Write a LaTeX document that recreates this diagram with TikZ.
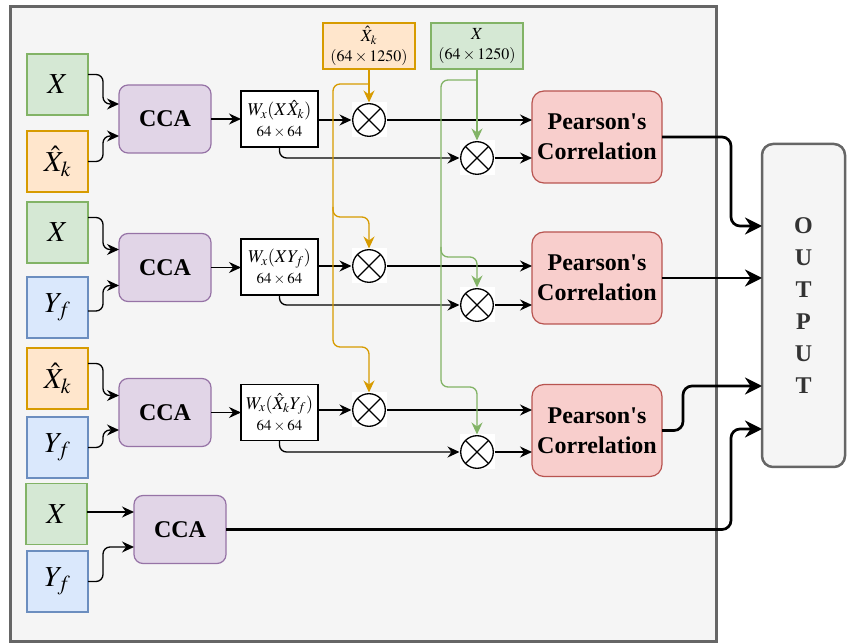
\documentclass[tikz,border=0pt]{standalone}
\usepackage{mathptmx}
\usepackage[no-math]{fontspec}
\setmainfont{Liberation Serif}
\usetikzlibrary{arrows.meta,calc}

\definecolor{gfill}{HTML}{D5E8D4}\definecolor{gline}{HTML}{82B366}
\definecolor{ofill}{HTML}{FFE6CC}\definecolor{oline}{HTML}{D79B00}
\definecolor{bfill}{HTML}{DAE8FC}\definecolor{bline}{HTML}{6C8EBF}
\definecolor{pfill}{HTML}{E1D5E7}\definecolor{pline}{HTML}{9673A6}
\definecolor{rfill}{HTML}{F8CECC}\definecolor{rline}{HTML}{B85450}
\definecolor{panel}{HTML}{F5F5F5}\definecolor{panelline}{HTML}{666666}
\definecolor{paneltext}{HTML}{333333}

\newcommand{\lineone}{\fontsize{18}{21}\selectfont}
\newcommand{\topone}{\fontsize{17}{21}\selectfont}

\begin{document}
\begin{tikzpicture}[x=1pt,y=-1pt,
  every node/.style={inner sep=0pt, outer sep=0pt},
  inbox/.style={draw, line width=1.2pt, minimum width=61pt, minimum height=61pt,
    font=\fontsize{29}{32}\selectfont},
  gbox/.style={inbox, fill=gfill, draw=gline},
  obox/.style={inbox, fill=ofill, draw=oline},
  bbox/.style={inbox, fill=bfill, draw=bline},
  ccabox/.style={draw=pline, fill=pfill, line width=1.2pt, rounded corners=9pt,
    minimum width=92pt, minimum height=68pt, font=\fontsize{24}{28}\bfseries\selectfont},
  wbox/.style={draw, fill=white, line width=1.3pt, minimum width=77pt, minimum height=56pt,
    align=center, font=\fontsize{15}{21}\selectfont},
  pbox/.style={draw=rline, fill=rfill, line width=1.2pt, rounded corners=12pt,
    minimum width=130pt, minimum height=92pt, align=center,
    font=\fontsize{24}{30}\bfseries\selectfont},
  topbox/.style={draw, line width=1.2pt, minimum width=92pt, minimum height=46pt,
    align=center, font=\fontsize{16}{20}\selectfont},
  mult/.style={rectangle, fill=white, minimum size=35pt, path picture={
      \coordinate (mc) at (path picture bounding box.center);
      \draw[line width=1.3pt] (mc) circle[radius=16.3pt];
      \draw[line width=1.3pt] ($(mc)+(-11.5,-11.5)$) -- ($(mc)+(11.5,11.5)$)
        ($(mc)+(-11.5,11.5)$) -- ($(mc)+(11.5,-11.5)$);}},
  link/.style={line width=1.3pt, rounded corners=7pt,
    -{Stealth[length=12pt,width=11pt,inset=4pt]}},
  olink/.style={link, draw=oline},
  glink/.style={link, draw=gline},
  thick link/.style={line width=2.7pt, rounded corners=9pt,
    -{Stealth[length=17pt,width=17pt,inset=5.5pt]}}]

\useasboundingbox (0,0) rectangle (847,644);

% grey panel holding the whole pipeline
\draw[panelline, fill=panel, line width=3pt] (10,7) rectangle (716,641);

% output column
\node[draw=panelline, fill=panel, line width=2.5pt, rounded corners=11pt,
  minimum width=83pt, minimum height=323pt, align=center, text=paneltext,
  font=\fontsize{24}{32}\bfseries\selectfont] (out) at (803.5,305.5) {O\\U\\T\\P\\U\\T};

% inputs
\node[gbox] (x1) at (57.5,84.5) {$X$};
\node[obox] (k1) at (57.5,161.5) {$\hat{X}_k$};
\node[gbox] (x2) at (57.5,232.5) {$X$};
\node[bbox] (y2) at (57.5,307.5) {$Y_f$};
\node[obox] (k3) at (57.5,378.5) {$\hat{X}_k$};
\node[bbox] (y3) at (57.5,447.5) {$Y_f$};
\node[gbox] (x4) at (56.5,514) {$X$};
\node[bbox] (y4) at (57.5,581.5) {$Y_f$};

% CCA blocks
\node[ccabox] (cca1) at (165,119) {CCA};
\node[ccabox] (cca2) at (165,267.5) {CCA};
\node[ccabox] (cca3) at (165,412.5) {CCA};
\node[ccabox] (cca4) at (180,529.5) {CCA};

% projection matrices
\node[wbox] (w1) at (279.5,119) {{\lineone$W_x(X\hat{X}_k)$}\\$64\times 64$};
\node[wbox] (w2) at (279.5,267) {{\lineone$W_x(XY_f)$}\\$64\times 64$};
\node[wbox] (w3) at (279.5,412.5) {{\lineone$W_x(\hat{X}_kY_f)$}\\$64\times 64$};

% shared signals
\node[topbox, draw=oline, fill=ofill] (tk) at (369,46) {{\topone$\hat{X}_k$}\\$(64\times 1250)$};
\node[topbox, draw=gline, fill=gfill] (tx) at (477,46) {{\topone$X$}\\$(64\times 1250)$};

% products
\node[mult] (m1a) at (369,120) {};
\node[mult] (m1b) at (477,158) {};
\node[mult] (m2a) at (369,266) {};
\node[mult] (m2b) at (477,305) {};
\node[mult] (m3a) at (369,410) {};
\node[mult] (m3b) at (477,452) {};

% correlation blocks
\node[pbox] (p1) at (597,137) {Pearson\textquotesingle s\\Correlation};
\node[pbox] (p2) at (597,278) {Pearson\textquotesingle s\\Correlation};
\node[pbox] (p3) at (597,430.5) {Pearson\textquotesingle s\\Correlation};

% inputs into CCA
\draw[link] ([yshift=10pt]x1.east) -- ++(15,0) |- ([yshift=15pt]cca1.west);
\draw[link] (k1.east) -- ++(15,0) |- ([yshift=-17pt]cca1.west);
\draw[link] ([yshift=15pt]x2.east) -- ++(15,0) |- ([yshift=18pt]cca2.west);
\draw[link] ([yshift=-3.5pt]y2.east) -- ++(15,0) |- ([yshift=-18pt]cca2.west);
\draw[link] ([yshift=15pt]k3.east) -- ++(15,0) |- ([yshift=17pt]cca3.west);
\draw[link] (y3.east) -- ++(15,0) |- ([yshift=-17.5pt]cca3.west);
\draw[link] ([yshift=2pt]x4.east) -- ([yshift=2pt]x4.east -| cca4.west);
\draw[link] (y4.east) -- ++(15,0) |- ([yshift=-17.5pt]cca4.west);

% CCA into projections
\draw[link] (cca1.east) -- (cca1.east -| w1.west);
\draw[link] (cca2.east) -- (cca2.east -| w2.west);
\draw[link] (cca3.east) -- (cca3.east -| w3.west);

% projections into products
\draw[link] (m1a.west -| w1.east) -- (m1a.west);
\draw[link] (m2a.west -| w2.east) -- (m2a.west);
\draw[link] (m3a.west -| w3.east) -- (m3a.west);
\draw[link] (w1.south) |- (m1b.west);
\draw[link] (w2.south) |- (m2b.west);
\draw[link] (w3.south) |- (m3b.west);

% products into correlation
\draw[link] (m1a.east) -- (m1a.east -| p1.west);
\draw[link] (m1b.east) -- (m1b.east -| p1.west);
\draw[link] (m2a.east) -- (m2a.east -| p2.west);
\draw[link] (m2b.east) -- (m2b.east -| p2.west);
\draw[link] (m3a.east) -- (m3a.east -| p3.west);
\draw[link] (m3b.east) -- (m3b.east -| p3.west);

% distribution of the shared signals
\coordinate (ok) at (369,84);
\coordinate (ov) at (333,84);
\coordinate (o2) at (333,217);
\coordinate (o3) at (333,347);
\draw[olink] (tk.south) -- (m1a.north);
\draw[olink] (ok) -- (ov) -- (o2) -| (m2a.north);
\draw[olink] ([yshift=10pt]o2) -- (o3) -| (m3a.north);

\coordinate (gk) at (477,80);
\coordinate (gv) at (441,80);
\coordinate (g2) at (441,257);
\coordinate (g3) at (441,387);
\draw[glink] (tx.south) -- (m1b.north);
\draw[glink] (gk) -- (gv) -- (g2) -| (m2b.north);
\draw[glink] ([yshift=10pt]g2) -- (g3) -| (m3b.north);

% results into output
\draw[thick link] (p1.east) -- ++(69,0) |- ([yshift=79.5pt]out.west);
\draw[thick link] (p2.east) -- (p2.east -| out.west);
\draw[thick link] (p3.east) -- ++(21,0) |- ([yshift=-80.5pt]out.west);
\draw[thick link] (cca4.east) -- ++(505,0) |- ([yshift=-123.5pt]out.west);
\end{tikzpicture}
\end{document}
